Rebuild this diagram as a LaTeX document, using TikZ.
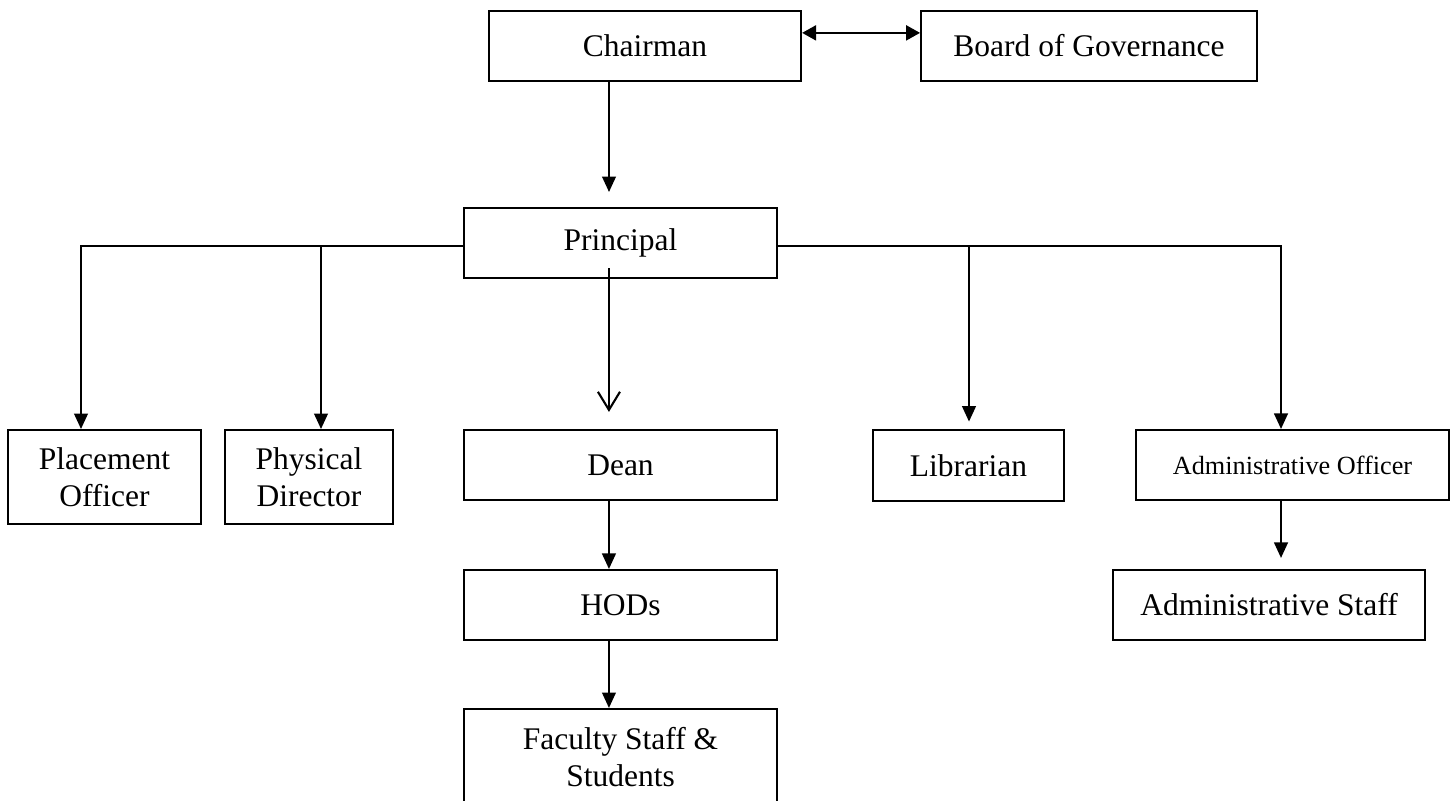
\documentclass[tikz,border=0pt]{standalone}
\usepackage{fontspec}
\setmainfont{Liberation Serif}
\usetikzlibrary{arrows.meta}
\tikzstyle{post}=[draw, line width=0.75pt, minimum width=119pt, minimum height=26.7pt, inner sep=0pt, align=center, font=\fontsize{12pt}{14pt}\selectfont]
\tikzstyle{link}=[line width=0.8pt, -{Triangle[length=5.9pt,width=5.2pt]}]
\tikzstyle{openlink}=[line width=0.8pt, -{Straight Barb[length=6.9pt,width=8.4pt]}]

\begin{document}
\begin{tikzpicture}[x=0.381pt,y=-0.381pt]
        \useasboundingbox (0,0) rectangle (1455,800);
        % \draw[gray] (0,0) rectangle (1455,800);
        \node[post] (chairman) at (645,46) {Chairman};
        \node[post, minimum width=128pt] (board) at (1089,46) {Board of Governance};
        \node[post] (principal) at (620.5,243) {Principal};
        % second row
        \node[post, minimum width=73.5pt, minimum height=35.8pt] (placement) at (104.5,477) {Placement\\Officer};
        \node[post, minimum width=64pt, minimum height=35.8pt] (physical) at (309,477) {Physical\\Director};
        \node[post] (dean) at (620.5,465) {Dean};
        \node[post, minimum width=72.8pt] (librarian) at (968.5,465.5) {Librarian};
        \node[post, font=\fontsize{10pt}{12pt}\selectfont] (adminofficer) at (1292.5,465) {Administrative Officer};
        % lower rows
        \node[post] (hods) at (620.5,605) {HODs};
        \node[post, minimum height=36.6pt] (faculty) at (620.5,757) {Faculty Staff \&\\Students};
        \node[post] (adminstaff) at (1269,605) {Administrative Staff};

        \draw[line width=0.8pt, {Triangle[length=5.3pt,width=5.7pt]}-{Triangle[length=5.3pt,width=5.7pt]}] ([yshift=5pt]chairman.east) -- ([yshift=5pt]board.west);
        \draw[link, shorten >=5.7pt] (chairman.south -| 609,0) -- (principal.north -| 609,0);
        \draw[link] ([yshift=-1pt]principal.west) -| (placement.north -| 81,0);
        \draw[link] ([yshift=-1pt]principal.west -| 321,0) -- (physical.north -| 321,0);
        \draw[link] ([yshift=-1pt]principal.east) -| (adminofficer.north -| 1281,0);
        \draw[link, shorten >=3pt] ([yshift=-1pt]principal.east -| 969,0) -- (librarian.north -| 969,0);
        \draw[openlink, shorten >=6.5pt] ([xshift=-4.4pt,yshift=4.2pt]principal.south) -- ([xshift=-4.4pt]dean.north);
        \draw[link] ([xshift=-4.4pt]dean.south) -- ([xshift=-4.4pt]hods.north);
        \draw[link] ([xshift=-4.4pt]hods.south) -- ([xshift=-4.4pt]faculty.north);
        \draw[link, shorten >=4.2pt] (adminofficer.south -| 1281,0) -- (adminstaff.north -| 1281,0);
    \end{tikzpicture}
\end{document}
